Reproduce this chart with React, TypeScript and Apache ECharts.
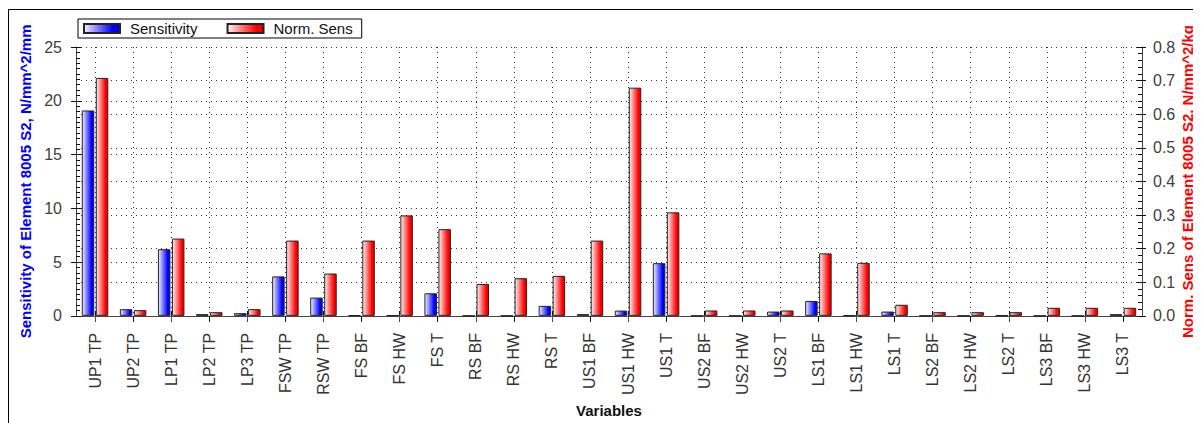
import React, { useEffect, useRef } from "react";
import * as echarts from "echarts";

const categories = [
  "UP1 TP", "UP2 TP", "LP1 TP", "LP2 TP", "LP3 TP", "FSW TP", "RSW TP",
  "FS BF", "FS HW", "FS T", "RS BF", "RS HW", "RS T", "US1 BF", "US1 HW",
  "US1 T", "US2 BF", "US2 HW", "US2 T", "LS1 BF", "LS1 HW", "LS1 T",
  "LS2 BF", "LS2 HW", "LS2 T", "LS3 BF", "LS3 HW", "LS3 T",
];
const sensitivity = [
  19.1, 0.62, 6.2, 0.16, 0.25, 3.67, 1.7, 0.06, 0.06, 2.1, 0, 0, 0.93, 0.16,
  0.49, 4.9, 0, 0, 0.4, 1.39, 0.05, 0.4, 0, 0, 0.05, 0, 0, 0.16,
];
const normSens = [
  0.708, 0.017, 0.23, 0.011, 0.02, 0.224, 0.126, 0.224, 0.299, 0.258, 0.095,
  0.112, 0.119, 0.224, 0.679, 0.308, 0.016, 0.016, 0.016, 0.186, 0.158, 0.033,
  0.011, 0.011, 0.011, 0.024, 0.024, 0.024,
];
const leftTicks = { min: 0, max: 25, interval: 5 };
const rightTicks = { min: 0, max: 0.8, interval: 0.1 };
const rightAxisName = "Norm. Sens of Element 8005 S2, N/mm^2/kg";

const FONT = "'Liberation Sans', Arial, sans-serif";

export default function App() {
  const ref = useRef<HTMLDivElement>(null);
  useEffect(() => {
    if (!ref.current) return;
    const chart = echarts.init(ref.current, undefined, { renderer: "svg" });
    const blue = new echarts.graphic.LinearGradient(0, 0, 1, 0, [
      { offset: 0, color: "#f2f2ff" },
      { offset: 0.8, color: "#0000ff" },
      { offset: 1, color: "#0000e6" },
    ]);
    const red = new echarts.graphic.LinearGradient(0, 0, 1, 0, [
      { offset: 0, color: "#fff2f2" },
      { offset: 0.8, color: "#ff0000" },
      { offset: 1, color: "#e60000" },
    ]);
    const gridLine = { show: true, lineStyle: { color: "#333", type: [1, 4] as any, width: 1 } };
    const option: any = {
      animation: false,
      textStyle: { fontFamily: FONT },
      graphic: [
        {
          type: "rect",
          shape: { x: 0.5, y: 1.5, width: 1400, height: 1000 },
          style: { fill: "none", stroke: "#000", lineWidth: 1 },
          silent: true,
        },
        {
          type: "text",
          x: 1179.5,
          y: 173.5,
          rotation: Math.PI / 2,
          style: {
            text: rightAxisName,
            fill: "#ff0000",
            font: `bold 15px ${FONT}`,
            align: "center",
            verticalAlign: "middle",
          },
          silent: true,
        },
      ],
      legend: {
        left: 70,
        top: 11,
        orient: "horizontal",
        itemWidth: 36,
        itemHeight: 9,
        itemGap: 29,
        padding: [2, 9, 2, 5],
        borderColor: "#000",
        borderWidth: 1,
        textStyle: { fontSize: 15, color: "#111", fontFamily: FONT, padding: [0, 0, 0, 5] },
        data: [
          { name: "Sensitivity", icon: "rect" },
          { name: "Norm. Sens", icon: "rect" },
        ],
      },
      grid: { left: 68, right: 59, top: 39, bottom: 106, containLabel: false },
      xAxis: [
        {
          type: "category",
          data: categories,
          position: "bottom",
          name: "Variables",
          nameLocation: "middle",
          nameGap: 85,
          nameTextStyle: { fontSize: 15, fontWeight: "bold", color: "#111", fontFamily: FONT },
          axisLine: { show: true, lineStyle: { color: "#444", width: 1 } },
          axisTick: { show: true, alignWithLabel: true, length: 6, lineStyle: { color: "#111" } },
          axisLabel: {
            rotate: 90,
            interval: 0,
            margin: 17,
            fontSize: 16,
            color: "#333",
            fontFamily: FONT,
          },
          splitLine: { ...gridLine, alignWithLabel: true },
        },
        {
          type: "category",
          data: categories,
          position: "bottom",
          axisLine: { show: false },
          axisTick: { show: true, inside: true, alignWithLabel: true, length: 5, lineStyle: { color: "#111" } },
          axisLabel: { show: false },
          splitLine: { show: false },
        },
        {
          type: "category",
          data: categories,
          position: "top",
          axisLine: { show: true, lineStyle: { color: "#444", width: 1 } },
          axisTick: { show: true, inside: true, alignWithLabel: true, length: 5, lineStyle: { color: "#555" } },
          axisLabel: { show: false },
          splitLine: { show: false },
        },
      ],
      yAxis: [
        {
          type: "value",
          position: "left",
          ...leftTicks,
          name: "Sensitivity of Element 8005 S2, N/mm^2/mm",
          nameLocation: "middle",
          nameRotate: 90,
          nameGap: 41,
          nameTextStyle: { fontSize: 15, fontWeight: "bold", color: "#0000ff", fontFamily: FONT },
          axisLine: { show: true, lineStyle: { color: "#444", width: 1 } },
          axisTick: { show: true, inside: true, length: 5, lineStyle: { color: "#111" } },
          minorTick: { show: true, splitNumber: 10, length: 4, lineStyle: { color: "#111" } },
          axisLabel: { fontSize: 16, color: "#404040", margin: 14, fontFamily: FONT },
          splitLine: gridLine,
        },
        {
          type: "value",
          position: "right",
          ...rightTicks,
          axisLine: { show: true, lineStyle: { color: "#444", width: 1 } },
          axisTick: { show: true, inside: true, length: 5, lineStyle: { color: "#111" } },
          minorTick: { show: true, splitNumber: 5, length: 4, lineStyle: { color: "#111" } },
          axisLabel: {
            fontSize: 16,
            color: "#404040",
            margin: 11,
            fontFamily: FONT,
            formatter: (v: number) => v.toFixed(1),
          },
          splitLine: gridLine,
        },
        {
          type: "value",
          position: "left",
          ...leftTicks,
          axisLine: { show: false },
          axisTick: { show: true, inside: false, length: 5, lineStyle: { color: "#111" } },
          axisLabel: { show: false },
          splitLine: { show: false },
        },
        {
          type: "value",
          position: "right",
          ...rightTicks,
          axisLine: { show: false },
          axisTick: { show: true, inside: false, length: 4, lineStyle: { color: "#111" } },
          axisLabel: { show: false },
          splitLine: { show: false },
        },
      ],
      series: [
        {
          name: "Sensitivity",
          type: "bar",
          xAxisIndex: 0,
          yAxisIndex: 0,
          data: sensitivity,
          barWidth: 12.5,
          barGap: "12%",
          itemStyle: { color: blue, borderColor: "#222", borderWidth: 1 },
        },
        {
          name: "Norm. Sens",
          type: "bar",
          xAxisIndex: 0,
          yAxisIndex: 1,
          data: normSens,
          barWidth: 12.5,
          barGap: "12%",
          itemStyle: { color: red, borderColor: "#222", borderWidth: 1 },
        },
      ],
    };
    chart.setOption(option);
    return () => chart.dispose();
  }, []);
  return <div ref={ref} style={{ width: 1193, height: 415 }} />;
}
